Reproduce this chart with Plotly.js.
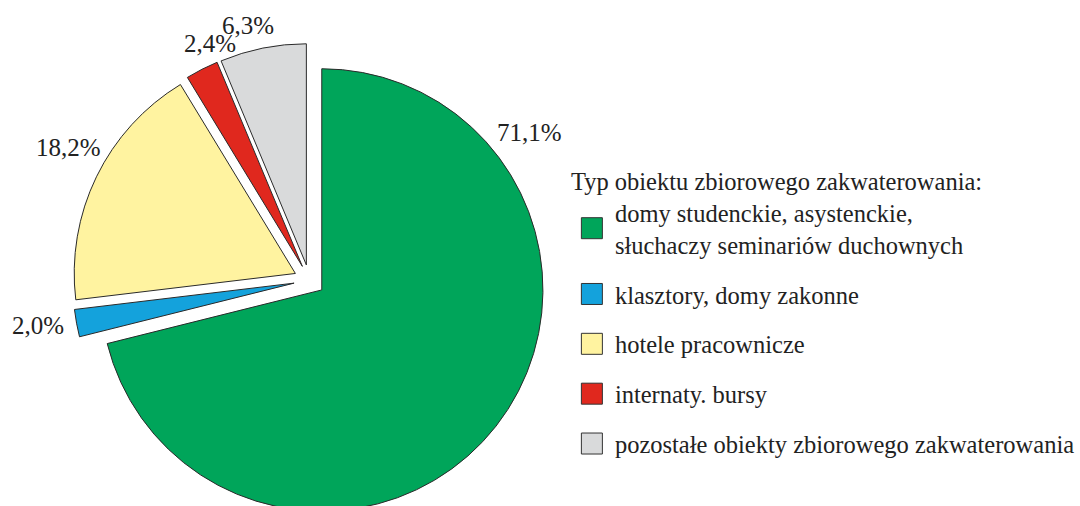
<!DOCTYPE html>
<html><head><meta charset="utf-8">
<script src="https://cdn.plot.ly/plotly-3.0.1.min.js"></script>
<style>html,body{margin:0;padding:0;background:#fff;overflow:hidden;width:1080px;height:506px}#chart{width:1080px;height:540px}</style>
</head><body><div id="chart"></div>
<script>
const categories = ['domy studenckie, asystenckie,<br>słuchaczy seminariów duchownych', 'klasztory, domy zakonne', 'hotele pracownicze', 'internaty. bursy', 'pozostałe obiekty zbiorowego zakwaterowania'];
const shares = [71.1, 2.0, 18.2, 2.4, 6.3];
const colors = ['#00A55A', '#14A2DC', '#FFF3A0', '#E0281E', '#D9DADB'];
const legendTitle = 'Typ obiektu zbiorowego zakwaterowania:';
const shareLabels = shares.map(v => v.toFixed(1).replace('.', ',') + '%');

// label placement: [angle clockwise from 12 o'clock (deg), distance from slice apex (px)]
const labelPolar = [[53, 261], [260.6, 261], [298.9, 260], [337.5, 241], [346.2, 247]];

const W = 1080, H = 540;
const R = 222, PULL = 0.0707, CX = 310.6, CY = 280.3;
const half = R * (1 + PULL);
const FONT = 'Liberation Serif, Times New Roman, serif';

const total = shares.reduce((a, b) => a + b, 0);
let cum = 0;
const annotations = shares.map((v, i) => {
  const mid = (cum + v / 2) / total * 2 * Math.PI;
  cum += v;
  const vx = CX + PULL * R * Math.sin(mid);
  const vy = CY - PULL * R * Math.cos(mid);
  const a = labelPolar[i][0] * Math.PI / 180, d = labelPolar[i][1];
  const px = vx + d * Math.sin(a), py = vy - d * Math.cos(a);
  return {xref: 'paper', yref: 'paper', x: px / W, y: 1 - py / H, text: shareLabels[i],
    showarrow: false, xanchor: 'center', yanchor: 'middle',
    font: {family: FONT, size: 25, color: '#222'}};
});

const pie = {
  type: 'pie', values: shares, labels: categories, sort: false,
  direction: 'clockwise', rotation: 0,
  pull: shares.map(() => PULL),
  marker: {colors: colors, line: {color: '#2a2a2a', width: 1}},
  textinfo: 'none',
  showlegend: false, hoverinfo: 'none',
  domain: {x: [(CX - half) / W, (CX + half) / W], y: [1 - (CY + half) / H, 1 - (CY - half) / H]}
};

const legendTraces = categories.map((c, i) => ({
  type: 'scatter', mode: 'markers', x: [null], y: [null], name: c,
  legendgroup: 'g' + i, showlegend: true, hoverinfo: 'none',
  marker: {symbol: 'square', size: 16, color: colors[i], line: {color: '#333', width: 1}}
}));

const layout = {
  width: W, height: H, margin: {l: 0, r: 0, t: 0, b: 0},
  paper_bgcolor: '#fff', plot_bgcolor: '#fff',
  font: {family: FONT, color: '#222', size: 24.5},
  xaxis: {visible: false}, yaxis: {visible: false},
  showlegend: true,
  legend: {
    x: 571 / W, y: 1 - 158 / H, xanchor: 'left', yanchor: 'top',
    bgcolor: 'rgba(0,0,0,0)', borderwidth: 0,
    font: {family: FONT, size: 24.5, color: '#222'},
    title: {text: legendTitle, font: {family: FONT, size: 24.5, color: '#222'}},
    traceorder: 'grouped', tracegroupgap: 15, itemsizing: 'trace', itemwidth: 36
  },
  annotations: annotations
};

Plotly.newPlot('chart', [pie].concat(legendTraces), layout, {displayModeBar: false, staticPlot: true}).then(gd => {
  gd.querySelectorAll('.legend .legendpoints path.scatterpts').forEach(p => p.setAttribute('d', 'M10.5,10.5H-10.5V-10.5H10.5Z'));
});
</script></body></html>
